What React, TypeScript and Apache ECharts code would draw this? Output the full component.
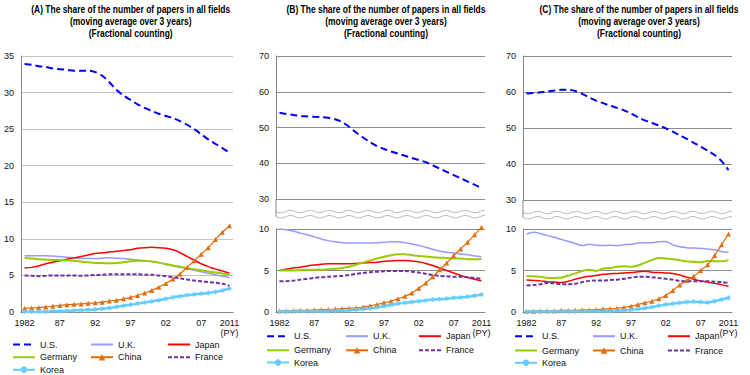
import React, { useEffect, useRef } from "react";
import * as echarts from "echarts";

const years = ["1982","1983","1984","1985","1986","1987","1988","1989","1990","1991","1992","1993","1994","1995","1996","1997","1998","1999","2000","2001","2002","2003","2004","2005","2006","2007","2008","2009","2010","2011"];
const xTickLabels = ["1982","","","","","87","","","","","92","","","","","97","","","","","02","","","","","07","","","","2011\n(PY)"];

const countries = ["U.S.", "U.K.", "Japan", "Germany", "China", "France", "Korea"];

// Panel A
const usA = [33.9,33.8,33.6,33.5,33.3,33.2,33.1,33.0,33.0,33.0,32.8,32.3,31.4,30.4,29.6,29.0,28.4,27.9,27.5,27.1,26.8,26.5,26.1,25.6,25.0,24.3,23.6,23.0,22.4,21.8];
const ukA = [7.7,7.7,7.7,7.7,7.65,7.6,7.5,7.4,7.3,7.3,7.3,7.35,7.4,7.35,7.3,7.2,7.1,7.0,6.9,6.75,6.5,6.3,6.1,5.9,5.7,5.5,5.3,5.1,4.9,4.7];
const japanA = [6.0,6.1,6.3,6.6,6.8,7.0,7.2,7.4,7.6,7.8,8.0,8.1,8.2,8.3,8.4,8.5,8.7,8.8,8.85,8.8,8.7,8.5,8.1,7.6,7.1,6.6,6.2,5.9,5.6,5.3];
const germanyA = [7.4,7.3,7.2,7.15,7.1,7.1,7.05,7.0,6.9,6.8,6.7,6.7,6.65,6.7,6.8,6.95,7.0,7.0,6.9,6.75,6.55,6.35,6.2,6.0,5.85,5.7,5.55,5.4,5.25,5.1];
const chinaA = [0.5,0.55,0.6,0.7,0.8,0.9,1.0,1.05,1.1,1.2,1.25,1.35,1.5,1.6,1.8,2.0,2.25,2.6,2.95,3.4,3.9,4.5,5.2,6.1,7.0,7.9,8.8,9.9,10.9,11.8];
const franceA = [5.0,4.95,4.9,4.95,5.0,5.0,5.0,5.0,4.95,5.0,5.05,5.1,5.15,5.15,5.15,5.15,5.15,5.1,5.1,5.0,4.9,4.75,4.6,4.45,4.3,4.2,4.1,4.0,3.85,3.6];
const koreaA = [0.05,0.05,0.05,0.05,0.1,0.1,0.15,0.2,0.25,0.3,0.35,0.45,0.55,0.7,0.85,1.0,1.15,1.3,1.45,1.6,1.8,2.0,2.15,2.3,2.4,2.5,2.6,2.75,2.95,3.2];

// Panel B
const usB = [54.1,53.8,53.5,53.2,53.1,53.0,52.9,52.7,52.3,51.5,50.2,48.6,47.2,45.9,44.8,44.0,43.3,42.7,42.1,41.5,40.9,40.3,39.4,38.5,37.6,36.7,35.8,34.9,34.0,33.0];
const ukB = [10.0,9.9,9.75,9.5,9.3,9.05,8.8,8.6,8.45,8.35,8.3,8.3,8.3,8.3,8.35,8.4,8.45,8.45,8.35,8.2,8.0,7.8,7.55,7.35,7.2,7.1,7.0,6.9,6.75,6.65];
const japanB = [5.0,5.15,5.3,5.4,5.55,5.65,5.75,5.8,5.8,5.8,5.8,5.85,5.9,5.95,6.0,6.1,6.15,6.2,6.2,6.15,6.05,5.85,5.6,5.3,5.0,4.7,4.4,4.15,3.95,3.75];
const germanyB = [5.0,5.0,5.0,5.05,5.05,5.1,5.1,5.15,5.2,5.3,5.45,5.7,5.95,6.2,6.45,6.65,6.85,6.95,6.95,6.85,6.75,6.7,6.6,6.55,6.5,6.45,6.45,6.35,6.35,6.4];
const chinaB = [0.15,0.15,0.18,0.2,0.2,0.25,0.28,0.3,0.35,0.4,0.45,0.5,0.6,0.75,0.9,1.1,1.3,1.6,1.9,2.3,2.85,3.5,4.25,5.1,5.9,6.8,7.6,8.4,9.3,10.2];
const franceB = [3.7,3.72,3.78,3.9,4.0,4.1,4.2,4.25,4.3,4.35,4.45,4.6,4.7,4.8,4.85,4.9,4.95,4.95,4.95,4.85,4.75,4.6,4.45,4.35,4.3,4.25,4.25,4.2,4.1,4.0];
const koreaB = [0.05,0.05,0.05,0.05,0.05,0.05,0.08,0.1,0.12,0.15,0.2,0.27,0.35,0.45,0.55,0.7,0.85,1.0,1.1,1.2,1.3,1.4,1.5,1.55,1.6,1.7,1.75,1.85,1.95,2.1];

// Panel C
const usC = [59.6,59.7,59.9,60.1,60.4,60.6,60.6,60.3,59.5,58.5,57.6,56.9,56.2,55.6,54.9,54.0,53.0,52.1,51.4,50.7,49.9,49.0,48.0,47.0,45.9,44.8,43.7,42.5,40.8,38.3];
const ukC = [9.4,9.6,9.45,9.2,9.0,8.75,8.5,8.25,8.0,8.15,8.05,8.0,8.05,8.0,8.1,8.15,8.3,8.35,8.35,8.45,8.5,8.1,7.85,7.75,7.7,7.65,7.6,7.5,7.3,7.2];
const japanC = [3.85,3.8,3.75,3.65,3.6,3.55,3.7,3.95,4.15,4.3,4.4,4.55,4.6,4.65,4.7,4.75,4.85,4.9,4.8,4.75,4.7,4.65,4.45,4.2,3.95,3.75,3.6,3.45,3.3,3.1];
const germanyC = [4.3,4.3,4.25,4.1,4.1,4.15,4.4,4.65,4.95,5.1,4.95,5.25,5.3,5.45,5.5,5.45,5.6,5.95,6.25,6.5,6.45,6.35,6.25,6.1,6.05,6.0,6.15,6.1,6.1,6.25];
const chinaC = [0.1,0.1,0.15,0.15,0.15,0.2,0.2,0.2,0.25,0.25,0.3,0.35,0.4,0.45,0.55,0.7,0.9,1.1,1.3,1.6,2.0,2.6,3.25,3.8,4.3,5.0,5.7,6.8,8.1,9.4];
const franceC = [3.2,3.25,3.35,3.5,3.45,3.35,3.35,3.4,3.6,3.75,3.8,3.8,3.85,3.9,4.0,4.15,4.25,4.25,4.2,4.1,4.0,3.9,3.75,3.7,3.7,3.7,3.7,3.65,3.6,3.5];
const koreaC = [0.05,0.05,0.05,0.05,0.05,0.05,0.05,0.05,0.05,0.08,0.1,0.1,0.12,0.15,0.2,0.25,0.35,0.45,0.6,0.75,0.9,1.0,1.1,1.2,1.25,1.2,1.15,1.3,1.5,1.7];

const titleLines = [
  ["(A) The share of the number of papers in all fields", "(moving average over 3 years)", "(Fractional counting)"],
  ["(B) The share of the number of papers in all fields", "(moving average over 3 years)", "(Fractional counting)"],
  ["(C) The share of the number of papers in all fields", "(moving average over 3 years)", "(Fractional counting)"],
];

const FONT = "'Liberation Sans', Arial, sans-serif";

// layout
const grids = [
  { left: 21, top: 56, width: 212, height: 256 },
  { left: 276, top: 56, width: 209, height: 143 },
  { left: 276, top: 229, width: 209, height: 83 },
  { left: 523, top: 56, width: 209, height: 144 },
  { left: 523, top: 229, width: 209, height: 83 },
];
const titleCenters = [130.7, 386, 639];
const legendCols = [[12, 90, 167], [266, 345, 418], [514, 592, 667]];
const legendRows = [[344, 356.7, 369.3], [335.7, 349.8, 362], [335.7, 350, 362.3]];

const styles: Record<string, any> = {
  "U.S.": { color: "#0000FF", lineStyle: { width: 2, type: [7, 4] }, symbol: "none" },
  "U.K.": { color: "#9999FF", lineStyle: { width: 1.5 }, symbol: "none" },
  "Japan": { color: "#FF0000", lineStyle: { width: 1.5 }, symbol: "none" },
  "Germany": { color: "#99CC00", lineStyle: { width: 2 }, symbol: "none" },
  "China": { color: "#E46C0A", lineStyle: { width: 1.2 }, symbol: "triangle", symbolSize: 5 },
  "France": { color: "#7030A0", lineStyle: { width: 2, type: [4, 2] }, symbol: "none" },
  "Korea": {
    color: "#66CCFF", lineStyle: { width: 2.5 },
    symbol: "path://M5,0L5,10M0,5L10,5M1.5,1.5L8.5,8.5M1.5,8.5L8.5,1.5", symbolSize: 5,
  },
};

function App() {
  const ref = useRef<HTMLDivElement>(null);
  useEffect(() => {
    document.body.style.margin = "0";
    const chart = echarts.init(ref.current!, null, { renderer: "svg" });

    const axisGrey = "#868686";
    const xAxes = grids.map((g, k) => ({
      gridIndex: k,
      type: "category",
      data: years,
      boundaryGap: true,
      show: k === 0 || k === 2 || k === 4,
      axisLine: { lineStyle: { color: axisGrey, width: 1 } },
      axisTick: { show: false },
      axisLabel: {
        interval: 0,
        formatter: (_v: string, i: number) => xTickLabels[i],
        fontSize: 9, fontFamily: FONT, color: "#111", margin: 6, lineHeight: 10,
      },
    }));
    const yRanges = [[0, 35, 5], [30, 70, 10], [0, 10, 5], [30, 70, 10], [0, 10, 5]];
    const yAxes = grids.map((g, k) => ({
      gridIndex: k,
      type: "value",
      min: yRanges[k][0], max: yRanges[k][1], interval: yRanges[k][2],
      axisLine: { show: true, lineStyle: { color: axisGrey, width: 1 } },
      axisTick: { show: false },
      axisLabel: { fontSize: 9, fontFamily: FONT, color: "#111", margin: 7 },
      splitLine: { lineStyle: { color: k === 0 ? "#C4C4C4" : "#8C8C8C", width: 1 } },
    }));

    const panels = [
      { us: usA, uk: ukA, jp: japanA, de: germanyA, cn: chinaA, fr: franceA, kr: koreaA, upper: 0, lower: 0 },
      { us: usB, uk: ukB, jp: japanB, de: germanyB, cn: chinaB, fr: franceB, kr: koreaB, upper: 1, lower: 2 },
      { us: usC, uk: ukC, jp: japanC, de: germanyC, cn: chinaC, fr: franceC, kr: koreaC, upper: 3, lower: 4 },
    ];
    const series: any[] = [];
    panels.forEach((p) => {
      const dataByName: Record<string, number[]> = {
        "U.S.": p.us, "U.K.": p.uk, "Japan": p.jp, "Germany": p.de, "China": p.cn, "France": p.fr, "Korea": p.kr,
      };
      countries.forEach((name) => {
        const s = styles[name];
        const idx = name === "U.S." ? p.upper : p.lower;
        series.push({
          type: "line",
          name,
          xAxisIndex: idx,
          yAxisIndex: idx,
          data: dataByName[name],
          smooth: 0.3,
          clip: false,
          symbol: s.symbol,
          symbolSize: s.symbolSize || 4,
          showSymbol: s.symbol !== "none",
          itemStyle: { color: s.color, borderColor: s.color, borderWidth: name === "Korea" ? 1 : 0 },
          lineStyle: { color: s.color, ...s.lineStyle },
          emphasis: { disabled: true },
        });
      });
    });

    const legends: any[] = [];
    for (let p = 0; p < 3; p++) {
      countries.forEach((name, i) => {
        const row = Math.floor(i / 3);
        const col = i % 3;
        const hasSymbol = styles[name].symbol !== "none";
        legends.push({
          left: legendCols[p][col],
          top: legendRows[p][row] - 4,
          padding: 0,
          itemWidth: 22,
          itemHeight: 8,
          itemGap: 0,
          selectedMode: false,
          itemStyle: hasSymbol ? {} : { opacity: 0 },
          textStyle: { fontSize: 9, fontFamily: FONT, color: "#111", padding: [0, 0, 0, 0] },
          data: [name],
        });
      });
    }

    const graphic: any[] = [];
    titleLines.forEach((lines, p) => {
      lines.forEach((t, j) => {
        graphic.push({
          type: "text",
          x: titleCenters[p],
          y: 9.5 + j * 12,
          scaleX: 0.845,
          style: {
            text: t,
            font: `bold 10px ${FONT}`,
            fill: "#000",
            textAlign: "center",
            textVerticalAlign: "middle",
          },
        });
      });
    });
    // break marks (wavy lines) for panels B and C
    [[1, 2], [3, 4]].forEach(([u, l]) => {
      const gu = grids[u];
      const yTop = gu.top + gu.height;
      const y1 = yTop + 12.5;
      const y2 = y1 + 5.2;
      const x0 = gu.left;
      const x1 = gu.left + gu.width;
      [y1, y2].forEach((yb) => {
        const pts: number[][] = [];
        for (let x = x0; x <= x1; x += 1) {
          pts.push([x, yb + 1.2 * Math.sin(((x - x0) / 19.4) * Math.PI * 2)]);
        }
        graphic.push({ type: "polyline", shape: { points: pts }, style: { stroke: "#BDBDBD", lineWidth: 1, fill: null }, silent: true });
      });
      graphic.push({ type: "line", shape: { x1: x0, y1: yTop, x2: x0, y2: y2 }, style: { stroke: axisGrey, lineWidth: 1 }, silent: true });
    });

    chart.setOption({
      animation: false,
      grid: grids.map((g) => ({ ...g, containLabel: false })),
      xAxis: xAxes,
      yAxis: yAxes,
      legend: legends,
      series,
      graphic,
    });
    return () => chart.dispose();
  }, []);
  return <div ref={ref} style={{ width: 750, height: 375, background: "#fff" }} />;
}

export default App;
